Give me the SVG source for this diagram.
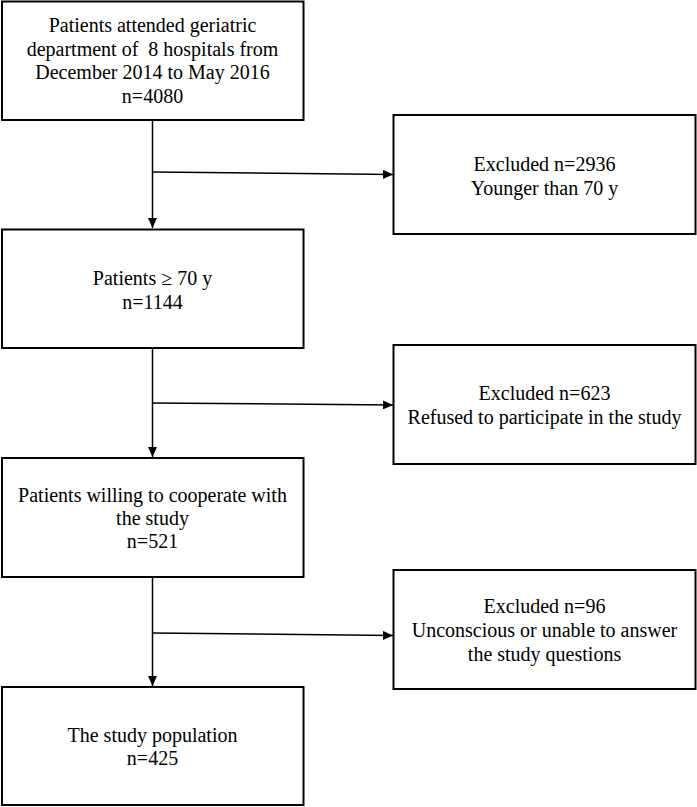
<svg xmlns="http://www.w3.org/2000/svg" width="697" height="807" viewBox="0 0 697 807">
<style>
.box{fill:#fff;stroke:#000;stroke-width:2}
.t{font-family:"Liberation Serif","Times New Roman",serif;font-size:20px;fill:#000;text-anchor:middle}
.c{fill:none;stroke:#000;stroke-width:1.5}
</style>
<defs>
<marker id="ah" markerUnits="userSpaceOnUse" markerWidth="11" markerHeight="9" refX="10" refY="4.5" orient="auto">
<path d="M0,0 L10,4.5 L0,9 Z" fill="#000"/>
</marker>
</defs>
<rect width="697" height="807" fill="#fff"/>
<g id="connectors">
<path class="c" d="M152.5,120 V228" marker-end="url(#ah)"/>
<path class="c" d="M152.5,172 L393,174.5" marker-end="url(#ah)"/>
<path class="c" d="M152.5,348 V457" marker-end="url(#ah)"/>
<path class="c" d="M152.5,403 L393,405" marker-end="url(#ah)"/>
<path class="c" d="M152.5,577 V686" marker-end="url(#ah)"/>
<path class="c" d="M152.5,633 L393,635.5" marker-end="url(#ah)"/>
</g>
<g id="n1">
<rect class="box" x="2" y="1.5" width="301.5" height="118.5"/>
<text class="t" x="152.5" y="32">Patients attended geriatric</text>
<text class="t" x="152.5" y="55.5" xml:space="preserve">department of  8 hospitals from</text>
<text class="t" x="152.5" y="79">December 2014 to May 2016</text>
<text class="t" x="152.5" y="102.5">n=4080</text>
</g>
<g id="e1">
<rect class="box" x="393.5" y="115" width="302" height="119"/>
<text class="t" x="544.5" y="171">Excluded n=2936</text>
<text class="t" x="544.5" y="195">Younger than 70 y</text>
</g>
<g id="n2">
<rect class="box" x="2" y="229.5" width="301.5" height="118.5"/>
<text class="t" x="152.5" y="285">Patients ≥ 70 y</text>
<text class="t" x="152.5" y="308.5">n=1144</text>
</g>
<g id="e2">
<rect class="box" x="393.5" y="345" width="302" height="119"/>
<text class="t" x="544.5" y="400">Excluded n=623</text>
<text class="t" x="544.5" y="424">Refused to participate in the study</text>
</g>
<g id="n3">
<rect class="box" x="2" y="458" width="301.5" height="119"/>
<text class="t" x="152.5" y="501.7">Patients willing to cooperate with</text>
<text class="t" x="152.5" y="525">the study</text>
<text class="t" x="152.5" y="548.3">n=521</text>
</g>
<g id="e3">
<rect class="box" x="393.5" y="570" width="302" height="119"/>
<text class="t" x="544.5" y="613.3">Excluded n=96</text>
<text class="t" x="544.5" y="637.3">Unconscious or unable to answer</text>
<text class="t" x="544.5" y="660.7">the study questions</text>
</g>
<g id="n4">
<rect class="box" x="2" y="687" width="301.5" height="118"/>
<text class="t" x="152.5" y="742">The study population</text>
<text class="t" x="152.5" y="765">n=425</text>
</g>
</svg>
